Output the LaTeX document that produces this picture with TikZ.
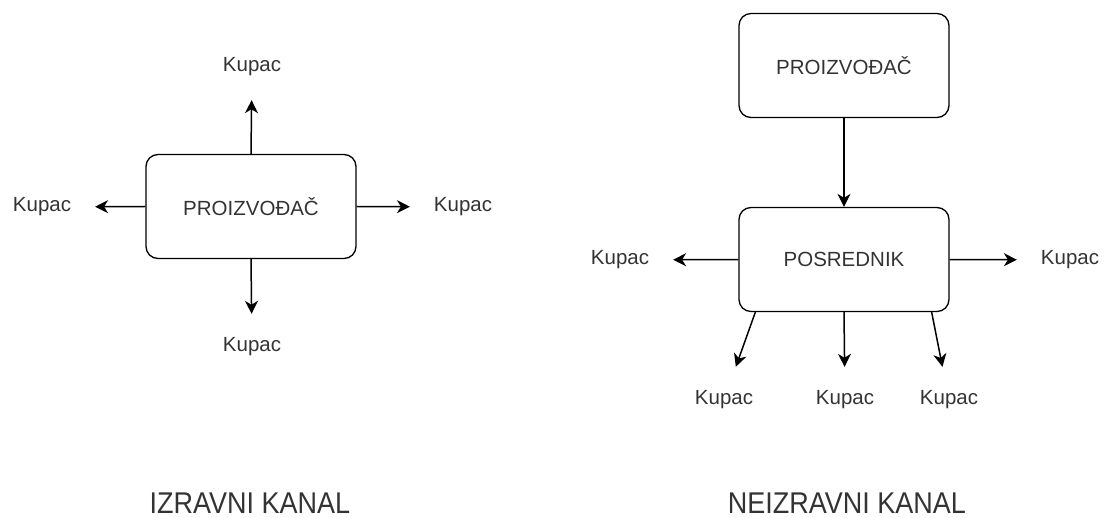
\documentclass[tikz,border=0pt]{standalone}
\usepackage{fontspec}
\setmainfont{Liberation Sans}
\newfontfamily\kanalfont[FakeStretch=0.9]{Liberation Sans}
\usetikzlibrary{arrows.meta}
\definecolor{txtgray}{HTML}{333333}

\begin{document}
\begin{tikzpicture}[x=1pt,y=-1pt,
    box/.style={draw,rounded corners=12pt,line width=1.3pt,minimum width=210pt,minimum height=104pt,
      font=\fontsize{20.5}{24}\selectfont,text=txtgray},
    kupac/.style={inner sep=0pt,outer sep=24pt,font=\fontsize{20.5}{24}\selectfont,text=txtgray},
    kanal/.style={anchor=base,font=\kanalfont\fontsize{30}{34}\selectfont,text=txtgray}]
  \useasboundingbox (0,0) rectangle (1109,518);

  % izravni kanal
  \node[box] (PL) at (251,206.5) {PROIZVOĐAČ};
  \begin{scope}[every node/.style={kupac}]
    \node (KL1) at (252,67) {Kupac};
    \node (KL2) at (42,207) {Kupac};
    \node (KL3) at (463,207) {Kupac};
    \node (KL4) at (252,347) {Kupac};
  \end{scope}

  % neizravni kanal
  \node[box] (PR) at (844,65.5) {PROIZVOĐAČ};
  \node[box] (PS) at (844,259.5) {POSREDNIK};
  \begin{scope}[every node/.style={kupac}]
    \node (KR1) at (620,260) {Kupac};
    \node (KR2) at (1070,260) {Kupac};
    \node (KR3) at (724,400) {Kupac};
    \node (KR4) at (845,400) {Kupac};
    \node (KR5) at (949,400) {Kupac};
  \end{scope}

  \begin{scope}[every edge/.style={draw=black,line width=1.5pt,-{Stealth[length=13pt,width=13pt,inset=4pt]}}]
    \path (PL.north) edge (KL1);
    \path (PL.west) edge (KL2);
    \path (PL.east) edge (KL3);
    \path (PL.south) edge (KL4);
    \path (PR.south) edge (PS.north);
    \path (PS.west) edge (KR1);
    \path (PS.east) edge (KR2);
    \path ([xshift=17pt]PS.south west) edge (KR3);
    \path (PS.south) edge (KR4);
    \path ([xshift=-18pt]PS.south east) edge (KR5);
  \end{scope}

  \node[kanal] (IK) at (250,513) {IZRAVNI KANAL};
  \node[kanal] (NK) at (847,513) {NEIZRAVNI KANAL};
\end{tikzpicture}
\end{document}
